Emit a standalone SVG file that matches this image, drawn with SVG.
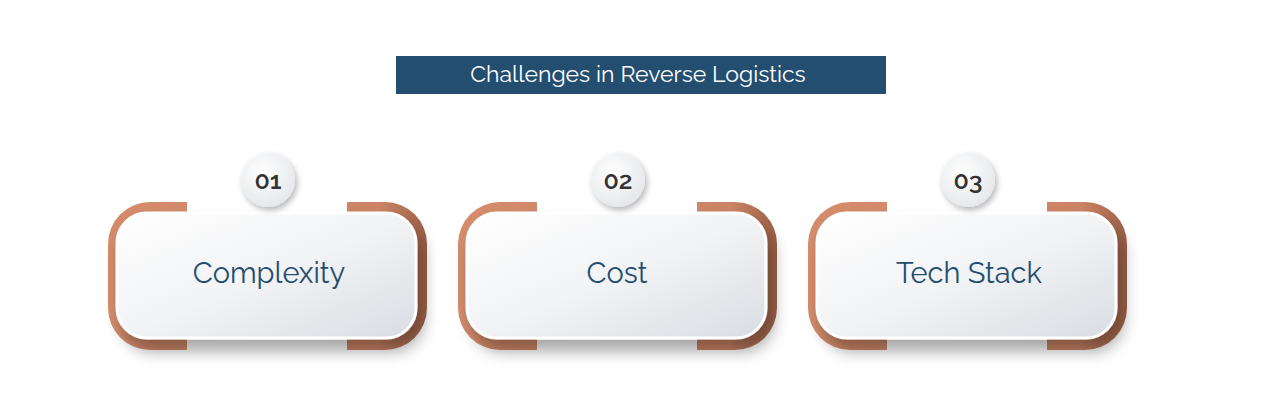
<svg xmlns="http://www.w3.org/2000/svg" width="1281" height="413" viewBox="0 0 1281 413">
<defs>
<linearGradient id="card" x1="0" y1="0" x2="1" y2="1"><stop offset="0" stop-color="#ffffff"/><stop offset="0.5" stop-color="#f2f3f5"/><stop offset="1" stop-color="#d9dde2"/></linearGradient>
<linearGradient id="br" x1="0" y1="0" x2="1" y2="0"><stop offset="0" stop-color="#d48c6c"/><stop offset="0.85" stop-color="#cc8466"/><stop offset="1" stop-color="#9e6248"/></linearGradient>
<radialGradient id="circ" cx="0.4" cy="0.35" r="0.7"><stop offset="0" stop-color="#ffffff"/><stop offset="1" stop-color="#e4e6e9"/></radialGradient>
<filter id="sh" x="-20%" y="-20%" width="150%" height="170%"><feGaussianBlur in="SourceAlpha" stdDeviation="8"/><feOffset dx="6" dy="12"/><feComponentTransfer><feFuncA type="linear" slope="0.35"/></feComponentTransfer><feMerge><feMergeNode/><feMergeNode in="SourceGraphic"/></feMerge></filter>
<filter id="csh" x="-50%" y="-50%" width="200%" height="200%"><feGaussianBlur in="SourceAlpha" stdDeviation="3"/><feOffset dx="2" dy="3"/><feComponentTransfer><feFuncA type="linear" slope="0.3"/></feComponentTransfer><feMerge><feMergeNode/><feMergeNode in="SourceGraphic"/></feMerge></filter>
<g id="item">
<rect x="108" y="202" width="319" height="148" rx="42" fill="url(#br)"/>
<rect x="187" y="200" width="160" height="152" fill="#ffffff"/>
<rect x="117" y="213" width="299" height="125" rx="30" fill="url(#card)" stroke="#ffffff" stroke-width="3" filter="url(#sh)"/>
<circle cx="268" cy="180" r="27" fill="url(#circ)" filter="url(#csh)"/>
</g>
</defs>
<style>
.t{font-family:"Raleway","Lato","Open Sans",sans-serif;}
.lbl{font-size:29px;fill:#234e70;text-anchor:middle;}
.num{font-size:25px;fill:#333;text-anchor:middle;font-weight:600;}
</style>
<rect width="1281" height="413" fill="#ffffff"/>
<g id="title"><rect x="396" y="56" width="490" height="38" fill="#234e70"/><text class="t" x="638" y="82" font-size="23" fill="#ffffff" text-anchor="middle">Challenges in Reverse Logistics</text></g>
<g id="n1"><use href="#item"/><text class="t num" x="268" y="189">01</text><text class="t lbl" x="269" y="283">Complexity</text></g>
<g id="n2"><use href="#item" x="350"/><text class="t num" x="618" y="189">02</text><text class="t lbl" x="617" y="283">Cost</text></g>
<g id="n3"><use href="#item" x="700"/><text class="t num" x="968" y="189">03</text><text class="t lbl" x="969" y="283">Tech Stack</text></g>
<g id="connectors"/>
</svg>
